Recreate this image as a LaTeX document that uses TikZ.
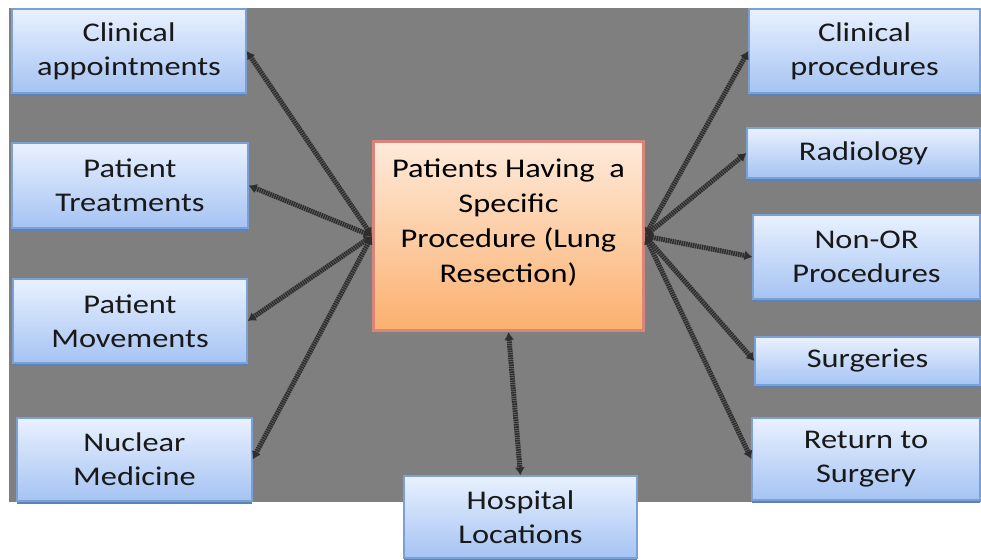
\documentclass[tikz,border=0pt]{standalone}
\usepackage{fontspec}
\setmainfont{Carlito}[FakeStretch=1.2]
\usepackage{tikz}
\usetikzlibrary{arrows.meta}
\usetikzlibrary{positioning}
\usetikzlibrary{shadows}
\definecolor{slidegray}{HTML}{7F7F7F}
\definecolor{boxtop}{HTML}{E9F1FE}
\definecolor{boxbottom}{HTML}{A5C3F3}
\definecolor{boxline}{HTML}{7AA0D4}
\definecolor{boxshadow}{HTML}{5A82BC}
\definecolor{hubtop}{HTML}{FEEADB}
\definecolor{hubbottom}{HTML}{FBB06E}
\definecolor{hubline}{HTML}{D9857A}
\definecolor{linkgray}{HTML}{2E2E2E}
\tikzset{
  bluebox/.style={draw=boxline, line width=1.2pt, top color=boxtop, bottom color=boxbottom,
    align=center, inner sep=0pt, text=black!90, font=\fontsize{27}{34}\selectfont,
    general shadow={fill=boxshadow, shadow yshift=-3pt}},
  hubbox/.style={draw=hubline, line width=3pt, top color=hubtop, bottom color=hubbottom,
    inner sep=0pt, minimum width=270pt, minimum height=189pt},
  link/.style={draw=linkgray, line width=5pt, dash pattern=on 1.6pt off 0.7pt,
    {Latex[length=8pt,width=10pt]}-{Latex[length=8pt,width=10pt]}}
}

\begin{document}
\begin{tikzpicture}[x=1pt, y=-1pt]
      \useasboundingbox (0,0) rectangle (981,559);
      \fill[slidegray] (9,8) rectangle (981,502);

      \node[hubbox, label={[align=center, yshift=13pt, font=\fontsize{27}{35}\selectfont]center:Patients Having~ a\\Specific\\Procedure (Lung\\Resection)}] (hub) at (508.5,236) {};

      % left column
      \node[bluebox, minimum width=234pt, minimum height=84pt] (appts) at (129,51) {Clinical\\appointments};
      \node[bluebox, minimum width=236pt, minimum height=85pt] (treat) at (130,185.5) {Patient\\Treatments};
      \node[bluebox, minimum width=234pt, minimum height=84pt] (moves) at (130,321) {Patient\\Movements};
      \node[bluebox, minimum width=235pt, minimum height=83pt] (nuclear) at (134.5,459.5) {Nuclear\\Medicine};

      % right column
      \node[bluebox, minimum width=231pt, minimum height=84pt] (procs) at (864.5,51) {Clinical\\procedures};
      \node[bluebox, minimum width=233pt, minimum height=50pt] (radio) at (863.5,153) {Radiology};
      \node[bluebox, minimum width=227pt, minimum height=84pt] (nonor) at (866.5,257) {Non-OR\\Procedures};
      \node[bluebox, minimum width=225pt, minimum height=48pt] (surg) at (867.5,361) {Surgeries};
      \node[bluebox, minimum width=228pt, minimum height=82pt] (retsurg) at (866,459) {Return to\\Surgery};

      \node[bluebox, minimum width=233pt, minimum height=82pt] (hosp) at (520.5,517) {Hospital\\Locations};

      \foreach \n in {appts,treat,moves,nuclear}
        \draw[link] (\n.east) -- (hub.west);
      \foreach \n in {procs,radio,nonor,surg,retsurg}
        \draw[link] (hub.east) -- (\n.west);
      \draw[link] (hub.south) -- (hosp.north);
\end{tikzpicture}
\end{document}
